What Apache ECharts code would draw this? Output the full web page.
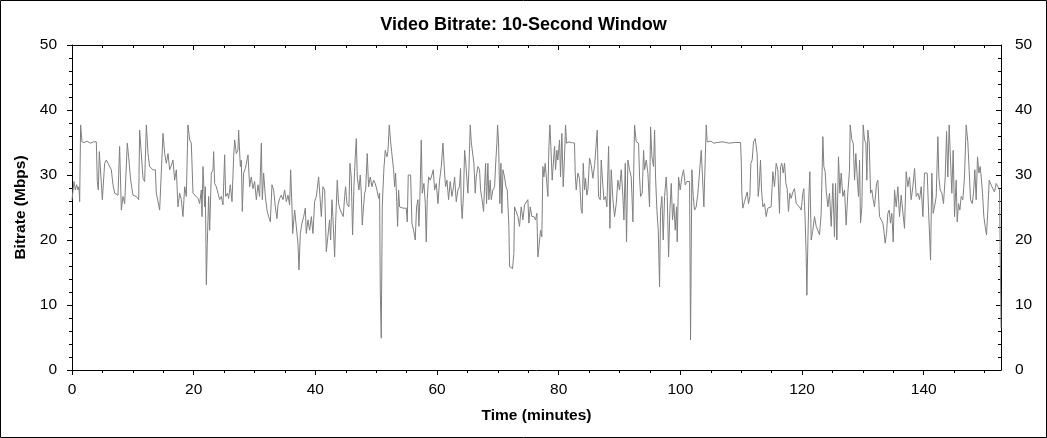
<!DOCTYPE html>
<html>
<head>
<meta charset="utf-8">
<script src="https://cdn.jsdelivr.net/npm/echarts@6/dist/echarts.min.js"></script>
<style>
html,body{margin:0;padding:0;background:#fff;}
#chart{width:1047px;height:438px;}
</style>
</head>
<body>
<div id="chart"></div>
<script>
const minutes = [
0.0,0.33,0.55,0.77,0.99,1.15,1.26,1.42,1.64,2.0,2.5,3.0,3.5,4.0,4.16,4.33,4.49,4.66,4.99,5.37,
5.64,5.92,6.19,6.46,6.74,7.01,7.56,7.83,8.11,8.38,8.66,9.09,9.31,9.64,10.02,10.57,10.96,11.12,11.39,11.67,
11.94,12.22,12.49,12.76,13.31,13.70,13.86,14.41,14.68,14.96,15.23,15.50,15.78,16.05,16.33,16.60,16.87,17.15,17.42,17.69,
17.97,18.24,18.52,18.79,19.06,19.34,19.61,19.89,20.16,20.71,20.98,
21.26,21.37,21.53,21.81,21.92,22.08,22.24,22.46,22.63,22.90,23.18,23.28,23.45,23.72,24.00,24.27,24.54,24.82,25.09,25.26,
25.53,25.75,26.02,26.30,26.57,26.74,27.01,27.28,27.39,27.67,27.83,27.99,28.21,28.49,28.93,29.20,29.47,29.75,30.02,30.30,
30.57,30.84,31.12,31.28,31.50,31.78,32.05,32.32,32.60,32.87,33.14,33.42,33.69,33.86,34.13,34.40,34.68,34.95,35.23,35.50,
35.77,35.94,36.16,36.27,36.60,36.87,37.14,37.31,37.53,37.80,38.08,38.35,38.51,38.79,39.06,39.34,39.61,39.88,40.16,40.54,
40.81,40.98,41.25,41.53,41.80,42.07,
42.34,42.51,42.73,42.89,43.17,43.33,43.60,43.82,44.10,44.37,44.59,44.81,44.97,45.19,45.52,45.69,45.90,46.12,46.34,46.56,
46.73,46.89,47.16,47.38,47.55,47.71,47.88,48.10,48.26,48.53,48.75,49.03,49.30,49.57,49.85,50.12,50.40,50.56,50.67,50.83,
51.00,51.11,51.27,51.49,51.77,51.93,52.15,52.37,52.64,52.86,53.03,53.19,53.35,53.52,53.68,53.85,54.12,54.40,54.67,54.94,
55.11,55.27,55.49,55.66,55.87,56.15,56.42,56.64,56.86,57.02,57.19,57.41,57.57,57.85,58.07,58.23,58.39,58.61,58.89,59.16,
59.38,59.60,59.87,60.15,60.42,60.70,60.97,61.24,61.41,61.63,61.90,62.17,62.45,62.72,62.89,63.16,63.43,
63.70,63.87,63.98,64.14,64.36,64.53,64.69,64.91,65.07,65.24,65.46,65.62,65.90,66.06,66.28,66.44,66.72,66.99,67.16,67.37,
67.65,67.81,67.98,68.14,68.36,68.52,68.74,68.91,69.18,69.46,69.67,69.84,69.95,70.11,70.33,70.50,70.66,70.83,71.10,71.32,
71.54,71.65,71.81,71.92,72.19,72.41,72.63,72.74,73.02,73.29,73.56,73.84,74.11,74.39,74.66,74.93,75.10,75.32,75.59,75.92,
76.19,76.41,76.58,76.85,77.02,77.23,77.40,77.56,77.78,78.00,78.22,78.39,78.55,78.71,78.93,79.15,79.32,79.48,79.70,79.86,
80.14,80.30,80.52,80.74,80.96,81.12,81.29,81.70,82.05,82.35,82.60,82.71,82.88,83.15,83.42,83.70,83.86,84.03,84.25,84.41,
84.63,
84.80,85.07,85.35,85.62,85.90,86.17,86.33,86.55,86.83,86.99,87.27,87.43,87.70,87.92,88.20,88.42,88.63,88.91,89.18,89.46,
89.73,90.00,90.28,90.55,90.72,90.94,91.15,91.37,91.65,91.92,92.20,92.36,92.47,92.74,93.13,93.29,93.46,93.73,93.95,94.11,
94.39,94.66,94.93,95.10,95.32,95.59,95.76,95.92,96.14,96.36,96.58,96.74,96.96,97.18,97.40,97.67,97.84,98.06,98.28,98.50,
98.71,98.93,99.15,99.37,99.48,99.70,99.97,100.25,100.52,100.80,101.07,101.34,101.51,101.67,101.89,102.11,102.33,102.60,102.88,103.15,
103.43,103.64,103.86,104.08,104.25,104.41,105.0,105.5,106.0,107.0,108.0,109.0,109.89,
110.00,110.10,110.27,110.54,110.82,110.98,111.20,111.42,111.58,111.80,112.02,112.30,112.46,112.62,112.79,112.95,113.17,113.34,113.56,113.83,
114.10,114.38,114.65,114.92,115.20,115.47,115.75,116.02,116.29,116.46,116.68,116.90,117.12,117.34,117.55,117.77,117.99,118.21,118.49,118.76,
119.03,119.31,119.58,119.86,120.13,120.29,120.51,120.68,120.79,120.95,121.12,121.28,121.50,121.77,122.05,122.32,122.59,122.87,123.14,123.42,
123.58,123.80,123.96,124.24,124.51,124.79,125.06,125.33,125.50,125.72,125.99,126.21,126.43,126.70,126.98,127.25,127.52,127.80,
127.91,128.19,128.41,128.63,128.84,129.06,129.28,129.45,129.61,129.83,130.05,130.27,130.49,130.65,130.82,131.04,131.26,131.47,131.69,131.91,
132.24,132.46,132.73,133.01,133.28,133.45,133.66,133.88,134.10,134.32,134.54,134.76,134.98,135.20,135.47,135.75,136.02,136.29,136.57,136.84,
137.12,137.39,137.66,137.94,138.21,138.49,138.76,139.03,139.31,139.58,139.86,140.13,140.29,140.57,140.79,141.01,141.12,141.33,141.55,141.77,
142.05,142.32,142.49,142.70,142.98,143.25,143.53,143.75,143.96,144.18,144.40,144.62,144.84,145.06,145.33,145.50,145.72,145.94,146.16,146.43,
146.70,146.98,147.25,147.53,147.69,147.96,148.18,148.40,148.62,148.84,149.06,149.28,149.44,149.66,149.88,150.10,150.32,150.54,150.76,150.98,
151.20,151.41,151.63,151.91,152.18,152.46,152.62,152.70
];
const bitrateMbps = [
26.2,29.0,27.7,28.5,27.7,28.2,25.9,37.7,35.1,35.0,35.2,34.9,35.1,35.1,29.0,27.7,33.6,33.3,26.2,31.8,
32.3,31.8,31.5,30.8,28.5,27.2,26.9,34.4,24.6,26.7,25.6,34.9,32.8,29.2,26.9,26.7,26.2,36.9,36.7,29.5,
29.0,37.7,33.3,31.3,30.8,30.8,27.2,24.6,24.4,36.4,33.3,31.8,33.3,30.8,31.5,32.3,29.2,30.8,25.1,27.2,
26.2,23.6,28.2,26.7,37.7,35.4,34.9,27.2,26.9,26.4,25.6,
27.7,23.6,31.3,25.1,28.2,13.1,19.5,26.7,21.5,30.3,30.8,33.6,28.7,28.2,27.2,26.2,26.7,25.4,33.1,26.7,
27.2,26.4,28.5,25.9,32.8,35.4,33.3,33.8,36.9,31.3,32.3,24.4,30.3,31.0,33.1,28.2,29.7,27.9,29.0,26.2,
28.5,26.7,34.9,26.2,30.3,26.7,24.6,23.6,22.8,28.5,27.7,25.1,23.3,25.4,26.4,26.9,26.2,27.7,25.9,26.9,
25.4,30.8,25.1,21.0,24.6,24.6,19.5,15.4,21.0,22.6,23.6,24.9,21.0,23.1,21.5,23.6,21.0,25.9,26.7,29.7,
29.5,23.6,28.2,27.7,18.2,18.5,
23.1,20.0,26.2,23.6,17.4,22.6,29.2,25.6,24.6,24.9,23.6,26.7,28.2,25.6,25.1,31.8,29.7,20.8,28.2,32.8,
35.6,29.7,27.7,30.0,27.2,22.3,24.6,27.2,27.7,33.3,28.2,29.7,28.2,29.2,28.7,27.7,26.4,27.2,12.3,4.9,
25.1,27.7,31.0,33.8,32.8,33.6,37.7,35.1,34.9,30.8,28.2,30.3,26.7,22.1,27.7,25.1,25.1,24.9,24.6,24.9,
22.8,30.0,29.7,30.0,22.6,21.5,20.0,25.1,26.2,22.1,26.7,35.4,27.2,28.7,25.6,19.7,26.2,29.7,29.2,30.0,
30.8,27.7,28.7,25.6,29.2,31.3,34.9,30.3,28.2,29.2,26.2,29.0,26.7,28.2,29.7,25.9,27.7,
28.2,31.0,25.6,23.3,27.2,33.8,32.3,32.3,27.2,30.8,37.7,35.1,35.1,31.8,27.2,29.7,31.3,30.8,27.7,26.4,
24.4,28.2,31.8,25.6,31.8,26.2,29.2,26.2,27.7,28.2,32.3,34.9,37.7,35.1,25.6,31.8,24.1,30.8,29.7,28.2,
27.7,25.4,22.1,15.9,15.9,15.6,17.9,25.1,25.1,23.6,22.1,25.1,23.1,25.4,25.1,26.2,22.6,25.1,23.6,23.6,
23.1,24.1,17.4,17.2,21.5,20.5,31.3,29.7,31.8,32.1,26.7,34.4,37.7,34.4,29.2,32.3,34.4,30.8,33.8,32.3,
35.4,29.7,36.4,28.2,32.8,37.7,34.9,35.1,35.0,34.8,34.9,30.3,27.7,30.3,29.5,24.6,24.1,31.8,27.7,29.5,
26.9,
27.7,32.6,31.5,29.5,31.5,31.3,36.9,26.7,26.2,32.3,28.2,26.2,26.7,25.1,34.4,21.8,30.8,26.2,23.6,25.6,
29.2,27.7,30.8,26.7,23.1,31.8,19.7,32.3,30.8,29.7,22.8,32.3,37.7,35.1,34.9,29.7,26.7,27.2,33.8,30.8,
32.3,30.3,25.1,37.4,32.8,31.3,36.9,29.7,24.6,21.5,12.8,24.6,26.7,20.0,26.7,29.7,26.7,17.4,24.6,28.7,
23.1,25.6,21.5,25.1,19.7,29.7,27.7,29.7,30.8,28.5,29.0,29.2,29.0,4.6,30.8,26.7,24.6,25.1,27.2,27.2,
33.8,29.7,25.1,32.3,37.7,35.1,35.2,34.9,35.0,35.1,34.9,35.0,35.0,
32.3,27.2,24.9,25.9,25.6,27.4,25.6,26.7,31.8,32.3,35.1,35.6,35.9,33.3,26.7,28.2,32.3,27.7,25.1,25.6,
23.6,24.9,24.6,25.1,30.5,28.2,31.8,30.8,24.1,31.3,31.8,30.3,31.8,28.7,27.9,24.4,27.2,26.4,27.4,27.9,
25.6,25.9,25.1,24.6,27.2,27.9,23.1,17.4,11.5,19.5,26.7,30.5,20.0,21.5,23.6,22.1,21.5,20.8,24.1,35.9,
31.3,30.5,27.7,25.1,27.2,22.1,28.7,20.5,28.7,20.0,32.8,27.2,30.3,26.7,27.7,22.3,27.2,30.8,
37.7,35.4,34.9,29.2,33.3,29.7,26.7,32.3,22.6,25.1,37.7,35.4,34.9,29.2,36.9,34.9,27.2,27.7,26.2,25.1,
28.7,29.2,23.6,23.1,22.6,21.5,19.5,21.0,24.1,24.6,22.6,24.1,19.7,27.7,25.1,28.2,23.6,26.9,26.7,21.8,
30.5,28.2,29.7,26.2,28.2,31.0,26.7,27.2,26.2,28.2,23.6,30.3,30.5,30.3,24.6,19.5,16.9,30.3,24.1,25.1,
26.7,35.9,29.7,27.7,27.2,25.6,29.7,36.7,29.7,37.7,32.3,27.2,33.8,23.6,29.2,22.8,25.6,24.6,26.7,26.2,
29.7,37.7,35.1,34.9,26.2,25.6,27.2,30.8,26.2,32.8,30.3,31.3,29.7,27.2,23.6,22.1,20.8,24.6,29.2,29.0,
28.2,28.2,27.4,28.7,28.5,27.7,27.7,6.5
];
const xMajorTicks = [0,20,40,60,80,100,120,140];
const xMinorTicks = [5,10,15,25,30,35,45,50,55,65,70,75,85,90,95,105,110,115,125,130,135,145,150];
const yMax = 50;
const yInterval = 10;
const xMax = 152.7;
const titleText = 'Video Bitrate: 10-Second Window';
const xName = 'Time (minutes)';
const yName = 'Bitrate (Mbps)';

const FONT = "'Liberation Sans', Arial, sans-serif";
const LABEL_SIZE = 15.5;
const chart = echarts.init(document.getElementById('chart'), null, {renderer:'canvas'});
const seriesData = minutes.map((t, i) => [t, bitrateMbps[i]]);

function xAxisDef(position, ticks, len, major) {
  return {
    type: 'value', position: position, min: 0, max: xMax,
    axisLine: {show: major, onZero: false, lineStyle: {color: '#000', width: 1}},
    axisTick: {show: true, inside: position === 'top', length: len, customValues: ticks, lineStyle: {color: '#000', width: 1}},
    axisLabel: {show: major && position === 'bottom', customValues: ticks, margin: 12, color: '#000', fontSize: LABEL_SIZE, fontFamily: FONT},
    splitLine: {show: false},
    name: (major && position === 'bottom') ? xName : '',
    nameLocation: 'middle', nameGap: 38,
    nameTextStyle: {color: '#000', fontSize: LABEL_SIZE, fontWeight: 'bold', fontFamily: FONT}
  };
}
function yAxisDef(position) {
  return {
    type: 'value', position: position, min: 0, max: yMax, interval: yInterval,
    axisLine: {show: true, onZero: false, lineStyle: {color: '#000', width: 1}},
    axisTick: {show: true, inside: position === 'right', length: 5, lineStyle: {color: '#000', width: 1}},
    minorTick: {show: true, splitNumber: 5, length: 3, lineStyle: {color: '#000', width: 1}},
    axisLabel: {show: true, margin: position === 'left' ? 15 : 14, color: '#000', fontSize: LABEL_SIZE, fontFamily: FONT},
    splitLine: {show: false}, minorSplitLine: {show: false},
    name: position === 'left' ? yName : '',
    nameLocation: 'middle', nameGap: 43, nameRotate: 90,
    nameTextStyle: {color: '#000', fontSize: LABEL_SIZE, fontWeight: 'bold', fontFamily: FONT}
  };
}

chart.setOption({
  animation: false,
  backgroundColor: '#fff',
  title: {text: titleText, left: 'center', top: 11,
    textStyle: {color: '#000', fontSize: 18, fontWeight: 'bold', fontFamily: FONT}},
  grid: {left: 72, right: 46, top: 45, bottom: 68, containLabel: false},
  xAxis: [
    xAxisDef('bottom', xMajorTicks, 5, true),
    xAxisDef('bottom', xMinorTicks, 3, false),
    xAxisDef('top', xMajorTicks, 5, true),
    xAxisDef('top', xMinorTicks, 3, false)
  ],
  yAxis: [yAxisDef('left'), yAxisDef('right')],
  graphic: [{type: 'rect', shape: {x: 0.5, y: 0.5, width: 1046, height: 437},
    style: {fill: null, stroke: '#000', lineWidth: 1}, silent: true}],
  series: [{
    type: 'line', xAxisIndex: 0, yAxisIndex: 0, data: seriesData,
    showSymbol: false, symbol: 'none',
    lineStyle: {color: '#808080', width: 1},
    itemStyle: {color: '#808080'}
  }]
});
</script>
</body>
</html>
